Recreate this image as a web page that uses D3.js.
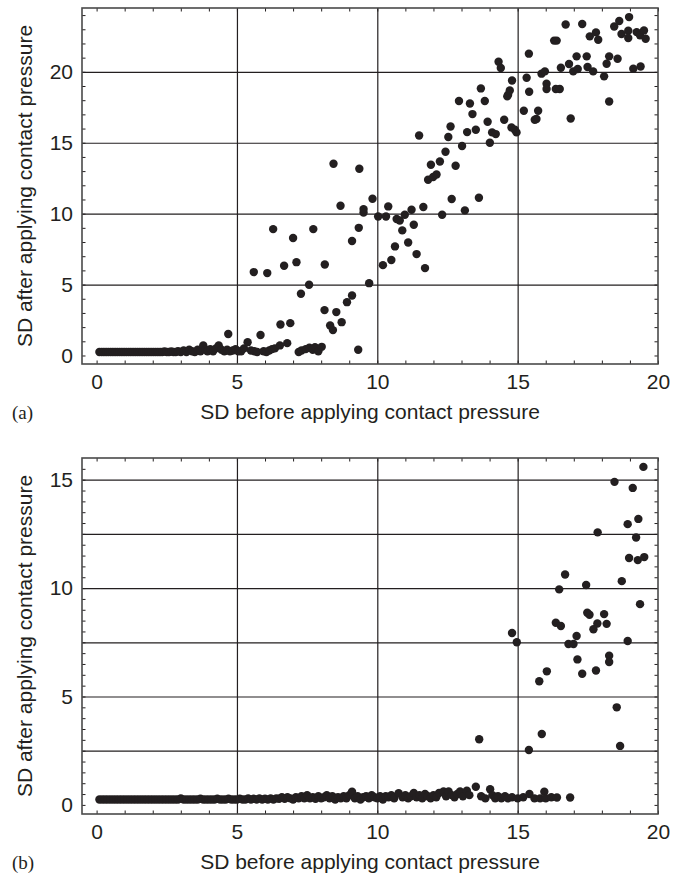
<!DOCTYPE html>
<html>
<head>
<meta charset="utf-8">
<script src="https://cdn.jsdelivr.net/npm/d3@7"></script>
<style>
  body { margin: 0; background: #fff; }
  svg { display: block; }
</style>
</head>
<body>
<script>
// ---- data ----
const xLabels = [0, 5, 10, 15, 20];
const xGrid = [5, 10, 15];

const topYLabels = [0, 5, 10, 15, 20];
const topYGrid = [5, 10, 15, 20];
const bottomYLabels = [0, 5, 10, 15];
const bottomYGrid = [2.5, 5, 7.5, 10, 12.5, 15];

// (a) points sitting on the floor
const topFlat = [
  [0.10,0.25],[0.18,0.25],[0.26,0.25],[0.34,0.25],[0.42,0.25],[0.50,0.25],[0.58,0.25],[0.66,0.25],
  [0.74,0.25],[0.82,0.25],[0.90,0.25],[0.98,0.25],[1.06,0.25],[1.14,0.25],[1.22,0.25],[1.30,0.25],
  [1.38,0.25],[1.46,0.25],[1.54,0.25],[1.62,0.25],[1.70,0.25],[1.78,0.25],[1.86,0.25],[1.94,0.25],
  [2.02,0.25],[2.10,0.25],[2.18,0.25],[2.26,0.25],[2.34,0.25],[2.42,0.28],[2.50,0.25],[2.58,0.25],
  [2.66,0.28],[2.74,0.25],[2.82,0.25],[2.90,0.30],[3.00,0.25],[3.10,0.35],[3.20,0.25],[3.30,0.40],
  [3.40,0.30],[3.50,0.25],[3.60,0.40],[3.70,0.30],[3.80,0.70],[3.88,0.40],[3.95,0.30],[4.05,0.45],
  [4.15,0.30],[4.25,0.50],[4.35,0.70],[4.45,0.40],[4.55,0.30],[4.65,0.40],[4.75,0.30],[4.85,0.35],
  [4.95,0.45],[5.05,0.30],[5.15,0.30],[5.25,0.50],[5.50,0.35],[5.62,0.30],[5.72,0.25],[5.95,0.30],
  [6.05,0.25],[6.15,0.35],[6.25,0.45],[6.35,0.50],[6.53,0.71],[6.79,0.87],[7.20,0.25],[7.30,0.35],
  [7.45,0.45],[7.58,0.55],[7.70,0.40],[7.78,0.59],[7.90,0.30],[8.02,0.61],[9.32,0.40]
];
// (a) the rising cloud
const topRise = [
  [4.69,1.51],[5.38,0.94],[5.84,1.44],[6.55,2.19],[6.90,2.28],[5.60,5.88],[6.08,5.81],[6.29,8.91],
  [6.68,6.33],[7.00,8.28],[7.12,6.58],[7.72,8.91],[7.28,4.35],[7.57,4.99],[8.13,6.42],[8.12,3.20],
  [8.54,3.06],[8.32,2.12],[8.42,1.79],[8.73,2.35],[8.92,3.76],[9.10,4.23],[9.71,5.10],[9.10,8.07],
  [9.34,9.00],[9.51,10.08],[9.51,10.32],[9.83,11.05],[8.69,10.56],[8.44,13.52],[9.36,13.17],
  [10.03,9.80],[10.31,9.80],[10.39,10.51],[10.69,9.62],[10.80,9.52],[10.98,9.92],[11.22,10.28],
  [11.64,10.47],[10.89,8.82],[11.30,9.22],[10.63,7.69],[11.10,7.97],[10.50,6.73],[10.20,6.37],
  [11.40,7.15],[11.70,6.16],[11.49,15.51],[12.31,9.92],[12.65,11.03],[13.12,10.23],[13.62,11.12],
  [11.81,12.39],[11.99,12.58],[12.11,12.76],[11.91,13.45],[12.23,13.68],[12.43,14.37],[12.79,13.38],
  [13.02,14.77],[12.53,15.40],[12.61,16.15],[12.91,17.94],[13.30,17.77],[13.39,17.02],[13.20,15.75],
  [13.51,15.92],[13.69,18.83],[13.83,17.94],[13.93,16.48],[14.01,15.00],[14.09,15.73],[14.22,15.61],
  [14.52,16.62],[14.32,20.71],[14.40,20.27],[14.66,18.39],[14.63,18.27],[14.72,18.69],[14.80,19.39],
  [14.78,16.08],[14.90,15.92],[14.96,15.73],[15.32,19.58],[15.41,18.60],[15.22,17.26],[15.73,17.26],
  [15.67,16.67],[15.61,16.62],[15.40,21.28],[15.85,19.87],[15.97,20.03],[16.03,19.16],[16.03,18.79],
  [16.36,18.79],[16.50,18.79],[16.30,22.20],[16.39,22.20],[16.89,16.71],[16.54,20.29],[16.83,20.55],
  [16.98,20.03],[17.14,20.20],[16.71,23.34],[17.10,21.09],[17.30,23.37],[17.46,21.09],[17.49,20.34],
  [17.69,20.03],[17.57,22.50],[17.79,22.78],[17.87,22.26],[18.08,19.68],[18.26,17.91],[18.17,20.57],
  [18.26,21.09],[18.56,20.92],[18.44,23.20],[18.62,23.58],[18.97,23.86],[18.70,22.67],[18.94,22.90],
  [18.94,22.38],[19.24,22.80],[19.36,22.57],[19.50,22.92],[19.56,22.33],[19.12,20.22],[19.38,20.38]
];

// (b) points sitting on the floor
const bottomFlat = [
  [0.10,0.25],[0.20,0.25],[0.30,0.25],[0.40,0.25],[0.50,0.25],[0.60,0.25],[0.70,0.25],[0.80,0.25],
  [0.90,0.25],[1.00,0.25],[1.10,0.25],[1.20,0.25],[1.30,0.25],[1.40,0.25],[1.50,0.25],[1.60,0.25],
  [1.70,0.25],[1.80,0.25],[1.90,0.25],[2.00,0.25],[2.10,0.25],[2.20,0.25],[2.30,0.25],[2.40,0.25],
  [2.50,0.25],[2.60,0.25],[2.70,0.25],[2.80,0.25],[2.90,0.25],[3.00,0.30],[3.10,0.25],[3.20,0.25],
  [3.30,0.25],[3.40,0.25],[3.50,0.25],[3.60,0.25],[3.70,0.28],[3.80,0.25],[3.90,0.25],[4.00,0.25],
  [4.10,0.25],[4.20,0.25],[4.30,0.28],[4.40,0.25],[4.50,0.25],[4.60,0.25],[4.70,0.28],[4.80,0.25],
  [4.90,0.25],[5.00,0.25],[5.10,0.28],[5.20,0.25],[5.30,0.25],[5.40,0.30],[5.50,0.25],[5.60,0.28],
  [5.70,0.25],[5.80,0.30],[5.90,0.25],[6.00,0.28],[6.10,0.25],[6.20,0.30],[6.30,0.25],[6.40,0.30],
  [6.50,0.28],[6.60,0.35],[6.70,0.28],[6.80,0.35],[6.90,0.30],[7.00,0.25],[7.10,0.35],[7.20,0.30],
  [7.30,0.40],[7.40,0.30],[7.50,0.45],[7.60,0.30],[7.70,0.35],[7.80,0.28],[7.90,0.40],[8.00,0.30],
  [8.10,0.35],[8.20,0.45],[8.30,0.30],[8.40,0.40],[8.50,0.25],[8.60,0.35],[8.70,0.30],[8.80,0.40],
  [8.90,0.30],[9.00,0.45],[9.10,0.61],[9.20,0.30],[9.30,0.40],[9.40,0.25],[9.50,0.35],[9.60,0.40],
  [9.70,0.30],[9.80,0.45],[9.90,0.35],[10.00,0.30],[10.10,0.40],[10.20,0.25],[10.30,0.40],[10.40,0.35],
  [10.50,0.45],[10.60,0.30],[10.76,0.54],[10.90,0.35],[11.00,0.45],[11.10,0.30],[11.20,0.40],
  [11.30,0.55],[11.40,0.35],[11.50,0.45],[11.60,0.30],[11.70,0.50],[11.80,0.40],[11.90,0.30],
  [12.00,0.45],[12.10,0.35],[12.20,0.55],[12.36,0.62],[12.45,0.40],[12.54,0.62],[12.65,0.45],
  [12.75,0.35],[12.85,0.50],[12.95,0.62],[13.05,0.40],[13.19,0.65],[13.28,0.45],[13.51,0.84],
  [13.70,0.40],[13.85,0.30],[14.02,0.72],[14.10,0.45],[14.20,0.30],[14.30,0.40],[14.42,0.30],
  [14.55,0.40],[14.65,0.30],[14.80,0.35],[15.00,0.30],[15.20,0.35],[15.42,0.50],[15.60,0.30],
  [15.80,0.30],[15.95,0.61],[16.00,0.30],[16.20,0.35],[16.40,0.34],[16.87,0.34]
];
// (b) the rising cloud
const bottomRise = [
  [19.48,15.59],[18.45,14.90],[19.10,14.62],[19.30,13.19],[18.92,12.95],[17.85,12.57],[19.22,12.33],
  [18.97,11.39],[19.28,11.29],[19.51,11.43],[16.69,10.63],[17.44,10.14],[16.48,9.94],[18.71,10.32],
  [19.36,9.26],[17.48,8.86],[17.56,8.77],[18.08,8.80],[16.36,8.40],[16.54,8.25],[17.84,8.37],
  [17.70,8.10],[18.17,8.35],[14.80,7.93],[14.97,7.50],[17.10,7.79],[16.81,7.42],[16.99,7.42],
  [18.92,7.56],[17.13,6.71],[18.26,6.88],[18.26,6.59],[16.04,6.16],[15.77,5.70],[17.30,6.05],
  [17.79,6.20],[18.53,4.50],[13.63,3.03],[15.86,3.27],[15.40,2.53],[18.65,2.72]
];

const xTitle = "SD before applying contact pressure";
const yTitle = "SD after applying contact pressure";

// ---- drawing ----
const W = 680, H = 875;
const ink = "#231f20";
const sans = "'Liberation Sans', Arial, Helvetica, sans-serif";
const serif = "'Liberation Serif', 'Times New Roman', serif";
const left = 82, right = 658;

const svg = d3.select("body").append("svg")
    .attr("width", W)
    .attr("height", H);

function panel(cfg) {
  let x = d3.scaleLinear().domain([-0.52, 20]).range([left, right]);
  let y = d3.scaleLinear().domain(cfg.yDomain).range([cfg.bottom, cfg.top]);
  let h = cfg.bottom - cfg.top;
  let g = svg.append("g");

  // grid lines
  g.append("g")
      .attr("transform", `translate(0,${cfg.bottom})`)
      .call(d3.axisBottom(x).tickValues(xGrid).tickSize(-h).tickFormat(""))
      .call(a => a.select(".domain").remove())
      .selectAll("line").attr("stroke", ink).attr("stroke-width", 1.2);
  g.append("g")
      .attr("transform", `translate(${left},0)`)
      .call(d3.axisLeft(y).tickValues(cfg.yGrid).tickSize(-(right - left)).tickFormat(""))
      .call(a => a.select(".domain").remove())
      .selectAll("line").attr("stroke", ink).attr("stroke-width", 1.2);

  // small inward ticks on all four sides
  let xMinor = d3.range(0, 20.01, 1);
  let yMinor = d3.range(0, cfg.yDomain[1], cfg.yMinorStep);
  let tk = 3.5;
  let minor = [
    [d3.axisBottom(x).tickValues(xMinor).tickSize(-tk), `translate(0,${cfg.bottom})`],
    [d3.axisTop(x).tickValues(xMinor).tickSize(-tk), `translate(0,${cfg.top})`],
    [d3.axisLeft(y).tickValues(yMinor).tickSize(-tk), `translate(${left},0)`],
    [d3.axisRight(y).tickValues(yMinor).tickSize(-tk), `translate(${right},0)`]
  ];
  minor.forEach(([ax, tr]) => {
    g.append("g")
        .attr("transform", tr)
        .call(ax.tickFormat(""))
        .call(a => a.select(".domain").remove())
        .selectAll("line").attr("stroke", ink).attr("stroke-width", 1);
  });

  // frame
  g.append("rect")
      .attr("x", left).attr("y", cfg.top)
      .attr("width", right - left).attr("height", h)
      .attr("fill", "none")
      .attr("stroke", "#4a4a4a")
      .attr("stroke-width", 1.6);

  // tick labels
  g.append("g")
      .attr("transform", `translate(0,${cfg.bottom})`)
      .call(d3.axisBottom(x).tickValues(xLabels).tickSize(0).tickPadding(10).tickFormat(d3.format("d")))
      .call(a => a.select(".domain").remove())
      .selectAll("text")
        .attr("fill", ink)
        .style("font-family", sans)
        .style("font-size", "21px");
  g.append("g")
      .attr("transform", `translate(${left},0)`)
      .call(d3.axisLeft(y).tickValues(cfg.yLabels).tickSize(0).tickPadding(9).tickFormat(d3.format("d")))
      .call(a => a.select(".domain").remove())
      .selectAll("text")
        .attr("fill", ink)
        .style("font-family", sans)
        .style("font-size", "21px");

  // axis titles
  g.append("text")
      .attr("x", (left + right) / 2)
      .attr("y", cfg.bottom + 55)
      .attr("text-anchor", "middle")
      .attr("fill", ink)
      .style("font-family", sans)
      .style("font-size", "21px")
      .text(xTitle);
  g.append("text")
      .attr("transform", `translate(31.5,${(cfg.top + cfg.bottom) / 2}) rotate(-90)`)
      .attr("text-anchor", "middle")
      .attr("fill", ink)
      .style("font-family", sans)
      .style("font-size", "21px")
      .text(yTitle);

  g.append("text")
      .attr("x", 12)
      .attr("y", cfg.bottom + 55)
      .attr("fill", ink)
      .style("font-family", serif)
      .style("font-size", "19px")
      .text(cfg.tag);

  // points
  g.append("g")
      .attr("fill", ink)
    .selectAll("circle")
    .data(cfg.points)
    .enter().append("circle")
      .attr("cx", d => x(d[0]))
      .attr("cy", d => y(d[1]))
      .attr("r", 4.2);
}

panel({
  top: 8, bottom: 364,
  yDomain: [-0.6, 24.5],
  yGrid: topYGrid, yLabels: topYLabels, yMinorStep: 1,
  points: topFlat.concat(topRise),
  tag: "(a)"
});

panel({
  top: 458, bottom: 814,
  yDomain: [-0.42, 16],
  yGrid: bottomYGrid, yLabels: bottomYLabels, yMinorStep: 0.5,
  points: bottomFlat.concat(bottomRise),
  tag: "(b)"
});
</script>
</body>
</html>
